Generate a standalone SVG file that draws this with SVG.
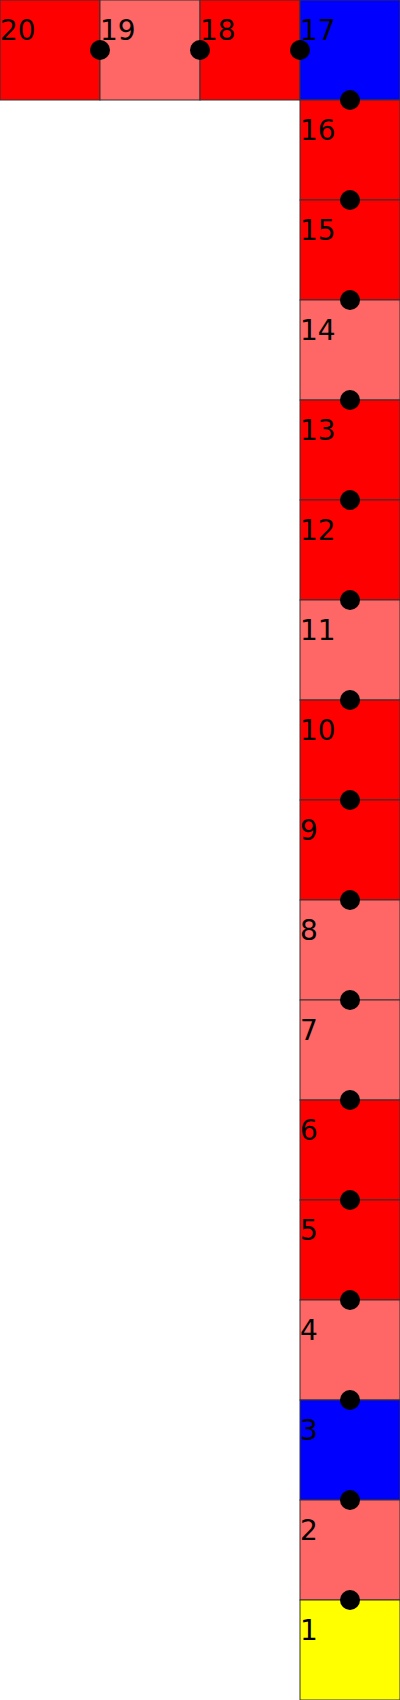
<svg xmlns="http://www.w3.org/2000/svg" width="400" height="1700" viewBox="0 0 400 1700">
<style>
rect{stroke:#333;stroke-width:1}
.r{fill:#ff0000}.l{fill:#ff6666}.b{fill:#0000ff}.y{fill:#ffff00}
text{font-family:"DejaVu Sans",sans-serif;font-size:28px;fill:#000}
circle{fill:#000}
</style>
<rect width="400" height="1700" fill="#fff" style="stroke:none"/>
<g id="n20"><rect class="r" x="0" y="0" width="100" height="100"/><text x="0" y="40">20</text></g>
<g id="n19"><rect class="l" x="100" y="0" width="100" height="100"/><text x="100" y="40">19</text></g>
<g id="n18"><rect class="r" x="200" y="0" width="100" height="100"/><text x="200" y="40">18</text></g>
<g id="n17"><rect class="b" x="300" y="0" width="100" height="100"/><text x="300" y="40">17</text></g>
<g id="n16"><rect class="r" x="300" y="100" width="100" height="100"/><text x="300" y="140">16</text></g>
<g id="n15"><rect class="r" x="300" y="200" width="100" height="100"/><text x="300" y="240">15</text></g>
<g id="n14"><rect class="l" x="300" y="300" width="100" height="100"/><text x="300" y="340">14</text></g>
<g id="n13"><rect class="r" x="300" y="400" width="100" height="100"/><text x="300" y="440">13</text></g>
<g id="n12"><rect class="r" x="300" y="500" width="100" height="100"/><text x="300" y="540">12</text></g>
<g id="n11"><rect class="l" x="300" y="600" width="100" height="100"/><text x="300" y="640">11</text></g>
<g id="n10"><rect class="r" x="300" y="700" width="100" height="100"/><text x="300" y="740">10</text></g>
<g id="n9"><rect class="r" x="300" y="800" width="100" height="100"/><text x="300" y="840">9</text></g>
<g id="n8"><rect class="l" x="300" y="900" width="100" height="100"/><text x="300" y="940">8</text></g>
<g id="n7"><rect class="l" x="300" y="1000" width="100" height="100"/><text x="300" y="1040">7</text></g>
<g id="n6"><rect class="r" x="300" y="1100" width="100" height="100"/><text x="300" y="1140">6</text></g>
<g id="n5"><rect class="r" x="300" y="1200" width="100" height="100"/><text x="300" y="1240">5</text></g>
<g id="n4"><rect class="l" x="300" y="1300" width="100" height="100"/><text x="300" y="1340">4</text></g>
<g id="n3"><rect class="b" x="300" y="1400" width="100" height="100"/><text x="300" y="1440">3</text></g>
<g id="n2"><rect class="l" x="300" y="1500" width="100" height="100"/><text x="300" y="1540">2</text></g>
<g id="n1"><rect class="y" x="300" y="1600" width="100" height="100"/><text x="300" y="1640">1</text></g>
<g id="connectors">
<circle cx="100" cy="50" r="10"/><circle cx="200" cy="50" r="10"/><circle cx="300" cy="50" r="10"/>
<circle cx="350" cy="100" r="10"/><circle cx="350" cy="200" r="10"/><circle cx="350" cy="300" r="10"/>
<circle cx="350" cy="400" r="10"/><circle cx="350" cy="500" r="10"/><circle cx="350" cy="600" r="10"/>
<circle cx="350" cy="700" r="10"/><circle cx="350" cy="800" r="10"/><circle cx="350" cy="900" r="10"/>
<circle cx="350" cy="1000" r="10"/><circle cx="350" cy="1100" r="10"/><circle cx="350" cy="1200" r="10"/>
<circle cx="350" cy="1300" r="10"/><circle cx="350" cy="1400" r="10"/><circle cx="350" cy="1500" r="10"/>
<circle cx="350" cy="1600" r="10"/>
</g>
</svg>
